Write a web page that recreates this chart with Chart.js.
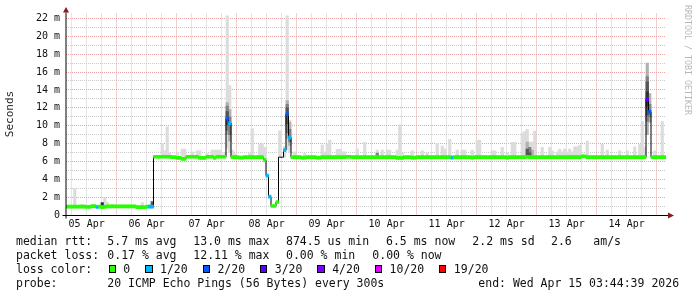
<!DOCTYPE html>
<html>
<head>
<meta charset="utf-8">
<script src="https://cdn.jsdelivr.net/npm/chart.js@4"></script>
<style>
html,body{margin:0;padding:0;background:#fff;}
#wrap{position:relative;width:697px;height:297px;overflow:hidden;background:#fff;}
#c{position:absolute;left:0;top:0;}
.t{position:absolute;font-family:'DejaVu Sans Mono',monospace;font-size:11.5px;line-height:14px;color:#111;white-space:pre;}
#ylab{position:absolute;left:-20px;top:107px;width:60px;height:14px;line-height:14px;text-align:center;
  font-family:'DejaVu Sans Mono',monospace;font-size:11px;color:#222;transform:rotate(-90deg);}
#credit{position:absolute;left:683px;top:5px;writing-mode:vertical-rl;font-family:'DejaVu Sans Mono',monospace;
  font-size:8.3px;line-height:9px;color:#b8b8b8;white-space:pre;}
.box{display:inline-block;width:5.3px;height:6.3px;border:1px solid #000;}
</style>
</head>
<body>
<div id="wrap">
<canvas id="c" width="697" height="297"></canvas>
<div id="ylab">Seconds</div>
<div id="credit">RRDTOOL / TOBI OETIKER</div>

<div class="t" style="top:234px;left:16px">median rtt:</div>
<div class="t" style="top:234px;left:107.3px">5.7 ms avg</div>
<div class="t" style="top:234px;left:193.3px">13.0 ms max</div>
<div class="t" style="top:234px;left:286px">874.5 us min</div>
<div class="t" style="top:234px;left:386px">6.5 ms now</div>
<div class="t" style="top:234px;left:472.3px">2.2 ms sd</div>
<div class="t" style="top:234px;left:551px">2.6</div>
<div class="t" style="top:234px;left:593.3px">am/s</div>

<div class="t" style="top:247.7px;left:16px">packet loss:</div>
<div class="t" style="top:247.7px;left:107.3px">0.17 % avg</div>
<div class="t" style="top:247.7px;left:193.3px">12.11 % max</div>
<div class="t" style="top:247.7px;left:286px">0.00 % min</div>
<div class="t" style="top:247.7px;left:372.3px">0.00 % now</div>

<div class="t" id="lossrow" style="top:262px;left:16px">loss color:</div>

<div class="t" style="top:276px;left:16px">probe:</div>
<div class="t" style="top:276px;left:107.3px">20 ICMP Echo Pings (56 Bytes) every 300s</div>
<div class="t" style="top:276px;left:478.3px">end: Wed Apr 15 03:44:39 2026</div>
</div>

<script>
// ---------------- data ----------------
// hour (after 05 Apr 00:00) where the first 1-hour bin begins
const START_H = 3.74;

const dayLabels = ['05 Apr','06 Apr','07 Apr','08 Apr','09 Apr','10 Apr','11 Apr','12 Apr','13 Apr','14 Apr'];
const yTickLabels = ['0','2 m','4 m','6 m','8 m','10 m','12 m','14 m','16 m','18 m','20 m','22 m'];

// median rtt per 1-hour bin, in ms (240 bins)
const medianMs = [
  1.0,1.0,1.0,1.0,1.0,1.0,1.0,1.0,0.97,0.97,1.05,1.05,0.95,1.0,0.93,0.97,1.02,1.02,1.02,1.02,1.02,1.02,1.02,1.02,
  1.02,1.02,1.02,1.02,0.93,0.93,0.93,0.93,1.0,0.98,0.98,6.55,6.55,6.55,6.55,6.55,6.55,6.55,6.5,6.5,6.42,6.42,6.32,6.32,
  6.55,6.55,6.55,6.55,6.55,6.42,6.42,6.42,6.55,6.55,6.55,6.42,6.55,6.55,6.55,6.55,10.8,10.3,6.52,6.52,6.52,6.45,6.45,6.52,
  6.5,6.5,6.5,6.5,6.5,6.5,6.5,6.2,4.44,2.1,1.06,1.06,1.5,6.5,6.5,7.3,11.3,8.7,6.5,6.5,6.5,6.5,6.45,6.45,
  6.5,6.5,6.5,6.5,6.45,6.45,6.5,6.5,6.5,6.5,6.5,6.5,6.5,6.5,6.5,6.5,6.55,6.55,6.5,6.5,6.5,6.5,6.5,6.5,
  6.5,6.5,6.5,6.5,6.5,6.5,6.5,6.5,6.5,6.5,6.5,6.5,6.42,6.42,6.42,6.5,6.5,6.5,6.45,6.45,6.5,6.5,6.5,6.5,
  6.5,6.5,6.5,6.5,6.5,6.5,6.5,6.5,6.5,6.5,6.45,6.5,6.5,6.5,6.5,6.5,6.5,6.5,6.45,6.5,6.5,6.5,6.5,6.5,
  6.5,6.5,6.5,6.5,6.5,6.5,6.5,6.5,6.45,6.5,6.5,6.5,6.5,6.5,6.5,6.5,6.55,6.5,6.5,6.5,6.5,6.5,6.5,6.5,
  6.5,6.5,6.5,6.5,6.5,6.5,6.5,6.5,6.5,6.5,6.5,6.5,6.5,6.5,6.6,6.6,6.5,6.5,6.5,6.5,6.5,6.5,6.5,6.5,
  6.5,6.5,6.5,6.5,6.5,6.5,6.5,6.5,6.5,6.5,6.5,6.5,6.5,6.5,6.5,6.5,12.95,11.55,6.5,6.5,6.5,6.5,6.5,6.5
];

// loss legend
const lossLabels = ['0','1/20','2/20','3/20','4/20','10/20','19/20'];
const lossColors = ['#26ff00','#00b8ff','#0059ff','#5e00ff','#7e00ff','#dd00ff','#ff0000'];
// bins with packet loss (index into lossLabels); all other bins are 0
const lossBins  = [12,33,34,64,65,80,81,87,88,89,154,232,233];
const lossLevel = [ 1, 1, 1, 2, 1, 1, 1, 1, 2, 1,  1,  3,  2];
// bins drawn without a loss colour
const plainBins = [85,86];

// light smoke: highest ping of each bin (ms); lowest = median unless listed below
const smokeBins = [3,6,15,16,18,30,33,38,39,40,41,44,46,47,50,52,53,56,58,59,60,61,63,
  64,65,66,67,73,74,77,78,79,85,87,88,89,91,95,102,103,104,105,108,109,110,111,116,119,
  124,126,128,129,132,133,134,138,142,144,148,150,151,153,156,158,159,162,164,165,
  170,171,174,176,178,179,182,183,184,185,186,187,190,193,194,196,197,198,199,200,201,202,
  203,204,205,208,214,216,221,224,227,229,230,231,235,238];
const smokeHighMs = [3.0,1.25,1.98,1.47,1.25,1.45,1.2,8.05,7.2,9.9,7.0,7.0,7.4,7.4,7.1,7.2,7.2,6.9,7.3,7.3,7.3,7.3,7.0,
  22.4,14.5,7.3,6.9,6.9,9.7,7.9,8.05,7.6,9.45,7.7,22.4,10.6,7.1,6.9,7.86,7.1,8.0,8.4,7.38,7.38,7.1,7.1,7.4,8.16,
  7.3,7.3,7.3,7.3,7.3,10.1,7.0,7.2,7.2,7.0,8.05,7.75,7.4,8.5,7.3,7.3,7.3,7.3,8.35,8.4,
  7.2,7.2,7.6,7.0,8.16,8.16,9.2,9.35,9.6,8.2,8.2,9.4,7.6,7.6,7.2,7.1,7.4,7.1,7.4,7.1,7.4,7.1,
  7.67,7.67,7.86,8.3,7.94,7.3,7.2,7.2,7.67,7.9,10.46,7.67,7.2,10.46];
const smokeLowBins = [64,65,87,88,89];
const smokeLowMs   = [7.5,7.0,6.5,7.3,7.0];

// darker smoke layers around the median (level 0 = lightest)
const shadeBins  = [14,34,64,64,64,65,65,88,88,88,89,89,124,184,184,185,185,186,232,232,232,232,233,233];
const shadeLowMs = [0.95,1.0,9.0,9.5,10.1,8.3,9.0,8.6,9.2,10.2,7.8,8.2,6.5,6.5,6.5,6.5,6.5,6.5,9.0,10.5,11.2,12.2,10.4,11.0];
const shadeHighMs= [1.45,1.55,12.6,12.2,11.6,11.8,11.0,12.8,12.4,12.0,10.4,9.6,6.95,8.2,7.4,7.6,7.0,7.3,17.0,15.5,14.9,13.8,13.6,12.4];
const shadeLevel = [3,2,0,1,2,0,1,0,1,2,0,1,1,0,2,1,2,0,0,1,2,3,0,1];
const shadeColors = ['#b0b0b0','#808080','#555555','#333333'];

// ---------------- build ----------------
const center = k => START_H + k + 0.5;
const LINE_HALF = 0.17;

const lossData = [];
medianMs.forEach((m, k) => {
  if (plainBins.includes(k)) return;
  const li = lossBins.indexOf(k);
  const c = lossColors[li >= 0 ? lossLevel[li] : 0];
  lossData.push({x: center(k), y: [m - LINE_HALF, m + LINE_HALF], c});
});
const medianLine = medianMs.map((m, k) => ({x: center(k), y: m}));
const smokeData = smokeBins.map((k, i) => {
  const li = smokeLowBins.indexOf(k);
  const lo = li >= 0 ? smokeLowMs[li] : medianMs[k];
  return {x: center(k), y: [lo, smokeHighMs[i]]};
});
const shadeSets = shadeColors.map((col, lev) => ({
  type: 'bar',
  data: shadeBins.map((k, i) => shadeLevel[i] === lev ? {x: center(k), y: [shadeLowMs[i], shadeHighMs[i]]} : null).filter(Boolean),
  backgroundColor: col, borderWidth: 0, grouped: false, barPercentage: 1, categoryPercentage: 1, order: 5 - lev
}));

const PINK = '#eba2a2';
const GRAY = '#c9c9c9';

const xTicks = []; for (let h = 6; h <= 240; h += 6) xTicks.push(h);
const yTicks = []; for (let v = 0; v <= 22; v += 1) yTicks.push(v);

// dotted rrdtool-style grid, placed with the chart's own scales
const gridPlugin = {
  id: 'rrdGrid',
  beforeDatasetsDraw(chart) {
    const {ctx, chartArea: a, scales} = chart;
    ctx.save();
    ctx.lineWidth = 1;
    ctx.setLineDash([1, 1]);
    const vline = (v, col) => {
      const px = Math.round(scales.x.getPixelForValue(v) - 0.5) + 0.5;
      ctx.strokeStyle = col; ctx.beginPath(); ctx.moveTo(px, a.top - 2); ctx.lineTo(px, a.bottom); ctx.stroke();
    };
    const hline = (v, col) => {
      const py = Math.round(scales.y.getPixelForValue(v) - 0.5) + 0.5;
      ctx.strokeStyle = col; ctx.beginPath(); ctx.moveTo(a.left, py); ctx.lineTo(a.right, py); ctx.stroke();
    };
    xTicks.filter(v => v % 24 !== 0).forEach(v => vline(v, GRAY));
    yTicks.filter(v => v % 2 !== 0).forEach(v => hline(v, GRAY));
    xTicks.filter(v => v % 24 === 0).forEach(v => vline(v, PINK));
    yTicks.filter(v => v % 2 === 0).forEach(v => hline(v, PINK));
    ctx.restore();
  }
};

const axisPlugin = {
  id: 'rrdAxes',
  afterDatasetsDraw(chart) {
    const {ctx, chartArea: a} = chart;
    ctx.save();
    ctx.lineWidth = 1;
    ctx.strokeStyle = '#000';
    ctx.beginPath(); ctx.moveTo(62.5, a.bottom); ctx.lineTo(a.right + 3, a.bottom); ctx.stroke();
    ctx.beginPath(); ctx.moveTo(a.left, a.bottom + 3); ctx.lineTo(a.left, a.top - 3); ctx.stroke();
    ctx.fillStyle = '#8b1a1a';
    ctx.beginPath(); ctx.moveTo(a.right + 2, a.bottom - 3); ctx.lineTo(a.right + 8, a.bottom); ctx.lineTo(a.right + 2, a.bottom + 3); ctx.closePath(); ctx.fill();
    ctx.beginPath(); ctx.moveTo(a.left - 3, a.top - 3); ctx.lineTo(a.left, a.top - 8.5); ctx.lineTo(a.left + 3, a.top - 3); ctx.closePath(); ctx.fill();
    ctx.restore();
  }
};

Chart.defaults.font.family = "'DejaVu Sans Mono', monospace";

new Chart(document.getElementById('c'), {
  type: 'bar',
  data: {
    datasets: [
      {type: 'bar', data: lossData, backgroundColor: ctx => (ctx.raw && ctx.raw.c) || lossColors[0],
        borderWidth: 0, grouped: false, barPercentage: 1, categoryPercentage: 1, order: 0},
      {type: 'line', data: medianLine, borderColor: '#000', borderWidth: 1, pointRadius: 0,
        stepped: 'middle', fill: false, order: 1},
      ...shadeSets,
      {type: 'bar', data: smokeData, backgroundColor: '#dcdcdc', borderWidth: 0, grouped: false,
        barPercentage: 1, categoryPercentage: 1, order: 6}
    ]
  },
  options: {
    responsive: false,
    animation: false,
    events: [],
    layout: {autoPadding: false, padding: {left: 0, right: 31, top: 15.5, bottom: 0}},
    plugins: {legend: {display: false}, tooltip: {enabled: false}},
    scales: {
      x: {
        type: 'linear', min: START_H, max: START_H + medianMs.length, offset: false,
        afterBuildTicks: s => { s.ticks = xTicks.map(v => ({value: v})); },
        afterFit: s => { s.height = 297 - 215.5; },
        grid: {display: false, drawTicks: false},
        border: {display: false},
        ticks: {autoSkip: false, maxRotation: 0, padding: 3, color: '#111', font: {size: 10},
          callback: v => (v % 24 === 12) ? dayLabels[(v - 12) / 24] : ''}
      },
      y: {
        type: 'linear', min: 0, max: 22.3,
        afterBuildTicks: s => { s.ticks = yTicks.map(v => ({value: v})); },
        afterFit: s => { s.width = 66; },
        grid: {display: false, drawTicks: false},
        border: {display: false},
        ticks: {autoSkip: false, padding: 6, color: '#111', font: {size: 10},
          callback: v => (v % 2 === 0) ? yTickLabels[v / 2] : ''}
      }
    }
  },
  plugins: [gridPlugin, axisPlugin]
});

// loss colour legend row
const row = document.getElementById('lossrow');
lossLabels.forEach((lab, i) => {
  const b = document.createElement('span');
  b.className = 'box';
  b.style.background = lossColors[i];
  b.style.marginLeft = i === 0 ? '16.5px' : '15px';
  row.appendChild(b);
  const s = document.createElement('span');
  s.textContent = lab;
  s.style.marginLeft = '7.4px';
  row.appendChild(s);
});
</script>
</body>
</html>
